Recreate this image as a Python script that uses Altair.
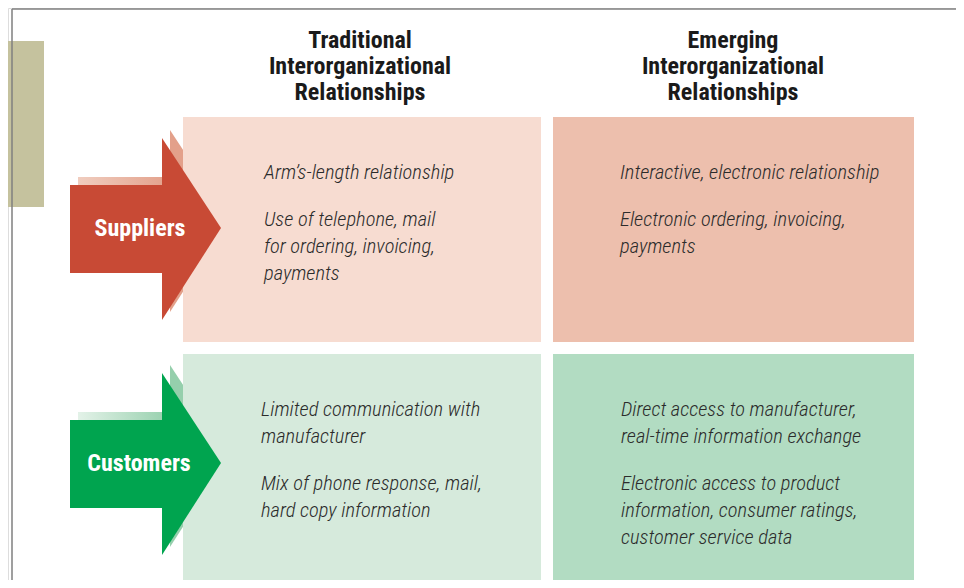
import altair as alt
import pandas as pd

# ---------------- content ----------------
col_headers = ["Traditional\nInterorganizational\nRelationships",
               "Emerging\nInterorganizational\nRelationships"]
row_labels = ["Suppliers", "Customers"]
cell_texts = [
    ["Arm’s-length relationship", "", "Use of telephone, mail", "for ordering, invoicing,", "payments"],
    ["Interactive, electronic relationship", "", "Electronic ordering, invoicing,", "payments"],
    ["Limited communication with", "manufacturer", "", "Mix of phone response, mail,", "hard copy information"],
    ["Direct access to manufacturer,", "real-time information exchange", "",
     "Electronic access to product", "information, consumer ratings,", "customer service data"],
]

# ---------------- layout (pixel space) ----------------
W, H = 948, 572
XD = [8, 8 + W]
YD = [8, 8 + H]
cols_x = [(183, 541), (553, 914)]
rows_y = [(117, 342), (354, 580)]
text_x = [264, 620, 261, 621]
text_y0 = [173, 173, 410, 410]
line_h = 27
para_gap = 20

cell_fill = ["#f7dcd1", "#edbfad", "#d6eadc", "#b2dcc2"]
arrow_col = ["#c84a35", "#00a44f"]
shadow_stops = [("#f0cdbf", "#e3a08a"), ("#e3f2e8", "#95cfac")]
arrow_mid_y = [228, 463]

FONT = "Roboto Condensed, DejaVu Sans Condensed, Liberation Sans Narrow, sans-serif"

xs = alt.Scale(domain=XD, nice=False, zero=False)
ys = alt.Scale(domain=YD, nice=False, zero=False, reverse=True)


def X(f, **k):
    return alt.X(f, type="quantitative", scale=xs, axis=None, **k)


def Y(f, **k):
    return alt.Y(f, type="quantitative", scale=ys, axis=None, **k)


layers = []

# frame lines
frame = pd.DataFrame({"x": [12, 12], "x2": [956, 12], "y": [9, 9], "y2": [9, 580]})

# tan tab
tab = pd.DataFrame({"x": [8], "x2": [44], "y": [41], "y2": [207]})
layers.append(alt.Chart(tab).mark_rect(color="#c5c29e").encode(
    x=X("x"), x2="x2", y=Y("y"), y2="y2"))
layers.append(alt.Chart(frame).mark_rule(color="#7f7f7f", strokeWidth=1.5).encode(
    x=X("x"), x2="x2", y=Y("y"), y2="y2"))


def arrow_parts(cy, dx=0, dy=0):
    body = pd.DataFrame({"x": [70 + dx], "x2": [163 + dx],
                         "y": [cy - 43 + dy], "y2": [cy + 45 + dy]})
    head = pd.DataFrame({"x": [162 + dx, 221 + dx],
                         "y": [cy - 90 + dy, cy + dy],
                         "y2": [cy + 92 + dy, cy + dy]})
    return body, head


# shadows (behind quadrants)
for i, cy in enumerate(arrow_mid_y):
    body, head = arrow_parts(cy, 8, -8)
    grad = alt.LinearGradient(gradient="linear", x1=0, y1=0, x2=1, y2=0,
                              stops=[alt.GradientStop(color=shadow_stops[i][0], offset=0),
                                     alt.GradientStop(color=shadow_stops[i][1], offset=1)])
    layers.append(alt.Chart(body).mark_rect(color=grad).encode(
        x=X("x"), x2="x2", y=Y("y"), y2="y2"))
    layers.append(alt.Chart(head).mark_area(color=shadow_stops[i][1], orient="vertical").encode(
        x=X("x"), y=Y("y"), y2="y2"))

# quadrants
cells = []
for r in range(2):
    for c in range(2):
        cells.append({"x": cols_x[c][0], "x2": cols_x[c][1],
                      "y": rows_y[r][0], "y2": rows_y[r][1], "k": r * 2 + c})
cells = pd.DataFrame(cells)
layers.append(alt.Chart(cells).mark_rect().encode(
    x=X("x"), x2="x2", y=Y("y"), y2="y2",
    color=alt.Color("k:N", scale=alt.Scale(domain=[0, 1, 2, 3], range=cell_fill), legend=None)))

# main arrows
for i, cy in enumerate(arrow_mid_y):
    body, head = arrow_parts(cy)
    layers.append(alt.Chart(body).mark_rect(color=arrow_col[i]).encode(
        x=X("x"), x2="x2", y=Y("y"), y2="y2"))
    layers.append(alt.Chart(head).mark_area(color=arrow_col[i], orient="vertical").encode(
        x=X("x"), y=Y("y"), y2="y2"))

# row labels
lab = pd.DataFrame({"t": row_labels, "x": [140, 139], "y": [229, 464]})
layers.append(alt.Chart(lab).mark_text(color="white", font=FONT, fontWeight="bold",
                                       fontSize=24, baseline="middle", align="center").encode(
    x=X("x"), y=Y("y"), text="t:N"))

# column headers
hdr_rows = []
for c, h in enumerate(col_headers):
    for j, line in enumerate(h.split("\n")):
        hdr_rows.append({"t": line, "x": [360, 733][c], "y": 41 + 26 * j})
hdr = pd.DataFrame(hdr_rows)
layers.append(alt.Chart(hdr).mark_text(color="#1a1a1a", font=FONT, fontWeight="bold",
                                       fontSize=24, baseline="middle", align="center").encode(
    x=X("x"), y=Y("y"), text="t:N"))

# cell texts
txt_rows = []
for k, lines in enumerate(cell_texts):
    y = text_y0[k]
    for line in lines:
        if line == "":
            y += para_gap
            continue
        txt_rows.append({"t": line, "x": text_x[k], "y": y})
        y += line_h
txt = pd.DataFrame(txt_rows)
layers.append(alt.Chart(txt).mark_text(color="#2b2b2b", font=FONT, fontStyle="italic",
                                       fontWeight=300, fontSize=20.5, baseline="middle",
                                       align="left").encode(
    x=X("x"), y=Y("y"), text="t:N"))

chart = alt.layer(*layers).properties(
    width=W, height=H,
    autosize=alt.AutoSizeParams(type="none"),
    padding=0,
).configure_view(stroke=None).configure(background="white")

chart.save("out.html", embed_options={"renderer": "svg", "actions": False})
